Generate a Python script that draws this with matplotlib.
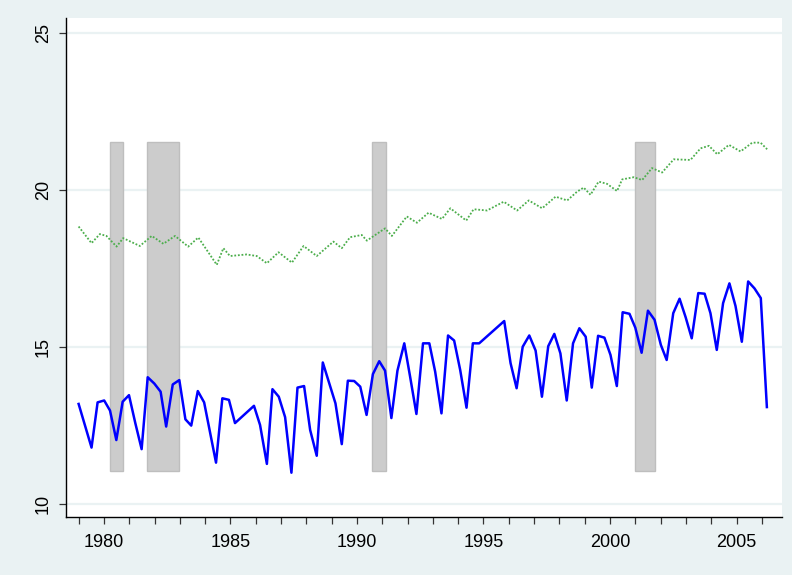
import matplotlib.pyplot as plt

# blue series: observed dates (decimal years) and values
blue_dates = [1979.00, 1979.51, 1979.75, 1980.01, 1980.24, 1980.49, 1980.74, 1980.99,
              1981.24, 1981.49, 1981.73, 1981.99, 1982.24, 1982.46, 1982.72, 1982.98,
              1983.22, 1983.45, 1983.71, 1983.96, 1984.43, 1984.68, 1984.94, 1985.18,
              1985.93, 1986.17, 1986.44, 1986.66, 1986.91, 1987.16, 1987.41, 1987.65,
              1987.91, 1988.15, 1988.41, 1988.65, 1989.15, 1989.40, 1989.64, 1989.89,
              1990.13, 1990.38, 1990.63, 1990.88, 1991.11, 1991.36, 1991.60, 1991.87,
              1992.10, 1992.35, 1992.61, 1992.86, 1993.09, 1993.34, 1993.60, 1993.84,
              1994.08, 1994.33, 1994.58, 1994.83, 1995.82, 1996.07, 1996.31, 1996.55,
              1996.81, 1997.06, 1997.31, 1997.56, 1997.80, 1998.04, 1998.29, 1998.54,
              1998.79, 1999.04, 1999.28, 1999.53, 1999.78, 2000.02, 2000.27, 2000.50,
              2000.77, 2001.00, 2001.25, 2001.50, 2001.76, 2002.01, 2002.24, 2002.50,
              2002.75, 2002.99, 2003.23, 2003.49, 2003.74, 2003.97, 2004.22, 2004.47,
              2004.72, 2004.96, 2005.21, 2005.46, 2005.71, 2005.96, 2006.20]
blue_vals = [13.20, 11.81, 13.25, 13.31, 12.99, 12.05, 13.27, 13.48,
             12.59, 11.76, 14.05, 13.85, 13.59, 12.48, 13.82, 13.96,
             12.71, 12.51, 13.61, 13.25, 11.33, 13.38, 13.33, 12.59,
             13.14, 12.53, 11.29, 13.67, 13.43, 12.78, 11.01, 13.72,
             13.77, 12.37, 11.55, 14.52, 13.22, 11.92, 13.94, 13.93,
             13.75, 12.85, 14.15, 14.56, 14.26, 12.75, 14.26, 15.13,
             14.07, 12.88, 15.13, 15.13, 14.23, 12.90, 15.38, 15.22,
             14.28, 13.08, 15.13, 15.13, 15.84, 14.50, 13.70, 15.02,
             15.38, 14.90, 13.43, 15.04, 15.43, 14.81, 13.31, 15.13,
             15.61, 15.34, 13.72, 15.37, 15.31, 14.76, 13.77, 16.12,
             16.07, 15.63, 14.83, 16.17, 15.88, 15.08, 14.60, 16.09,
             16.55, 15.96, 15.29, 16.73, 16.71, 16.09, 14.92, 16.41,
             17.04, 16.32, 15.18, 17.10, 16.88, 16.57, 13.10]

# green dotted series
green_dates = [1979.00, 1979.51, 1979.84, 1980.10, 1980.50, 1980.76, 1981.42, 1981.89,
               1982.35, 1982.81, 1983.33, 1983.73, 1984.46, 1984.72, 1984.98, 1985.64,
               1986.04, 1986.44, 1986.90, 1987.43, 1987.89, 1988.41, 1989.07, 1989.40,
               1989.73, 1990.19, 1990.39, 1991.11, 1991.38, 1991.97, 1992.37, 1992.83,
               1993.36, 1993.69, 1994.32, 1994.61, 1995.14, 1995.80, 1996.33, 1996.79,
               1997.32, 1997.85, 1998.31, 1998.70, 1998.96, 1999.23, 1999.55, 1999.88,
               2000.28, 2000.48, 2000.94, 2001.27, 2001.66, 2002.06, 2002.52, 2003.18,
               2003.58, 2003.91, 2004.24, 2004.70, 2005.16, 2005.62, 2005.95, 2006.21]
green_vals = [18.85, 18.32, 18.61, 18.55, 18.21, 18.48, 18.23, 18.55,
              18.30, 18.55, 18.21, 18.50, 17.63, 18.16, 17.91, 17.96,
              17.91, 17.68, 18.03, 17.70, 18.23, 17.91, 18.37, 18.16,
              18.51, 18.58, 18.40, 18.79, 18.55, 19.17, 18.97, 19.29,
              19.09, 19.43, 19.04, 19.40, 19.36, 19.64, 19.36, 19.68,
              19.43, 19.80, 19.68, 19.96, 20.09, 19.86, 20.28, 20.21,
              19.98, 20.35, 20.42, 20.33, 20.71, 20.57, 20.99, 20.97,
              21.34, 21.42, 21.15, 21.45, 21.24, 21.52, 21.52, 21.31]

# shaded recession periods (start, end)
rec_start = [1980.25, 1981.71, 1990.60, 2001.00]
rec_end = [1980.76, 1982.97, 1991.15, 2001.79]
rec_low, rec_high = 11.05, 21.55

bg = '#eaf2f3'
plt.rcParams['font.family'] = ['Liberation Sans Narrow', 'Liberation Sans', 'DejaVu Sans']

fig = plt.figure(figsize=(7.92, 5.75), dpi=100, facecolor=bg)
ax = fig.add_axes([0.0833, 0.1009, 0.9035, 0.8678])
ax.set_facecolor('white')

for y in [10, 15, 20, 25]:
    ax.axhline(y, color=bg, lw=1.6, zorder=0.5)

widths = [e - s for s, e in zip(rec_start, rec_end)]
ax.bar(rec_start, rec_high - rec_low, width=widths, bottom=rec_low, align='edge',
       color='#cccccc', edgecolor='#bebebe', linewidth=1.0, zorder=1)

ax.plot(green_dates, green_vals, color='#4cae4c', lw=1.3, ls=(0, (1, 1)), zorder=2)
ax.plot(blue_dates, blue_vals, color='#0000ff', lw=1.8, zorder=3)

ax.set_xlim(1978.5, 2006.78)
ax.set_ylim(9.6, 25.49)
ax.set_xticks(range(1979, 2007), minor=True)
ax.set_xticks([1980, 1985, 1990, 1995, 2000, 2005])
ax.set_yticks([10, 15, 20, 25])
ax.tick_params(axis='both', which='both', length=5, width=0.9, color='#333333',
               labelsize=13)
ax.tick_params(axis='x', pad=7)
ax.tick_params(axis='y', labelrotation=90, pad=5)
for lbl in ax.get_yticklabels():
    lbl.set_va('center')

for side in ['top', 'right']:
    ax.spines[side].set_visible(False)
for side in ['left', 'bottom']:
    ax.spines[side].set_color('black')
    ax.spines[side].set_linewidth(1.0)

fig.savefig('out.png', dpi=100, facecolor=bg)
